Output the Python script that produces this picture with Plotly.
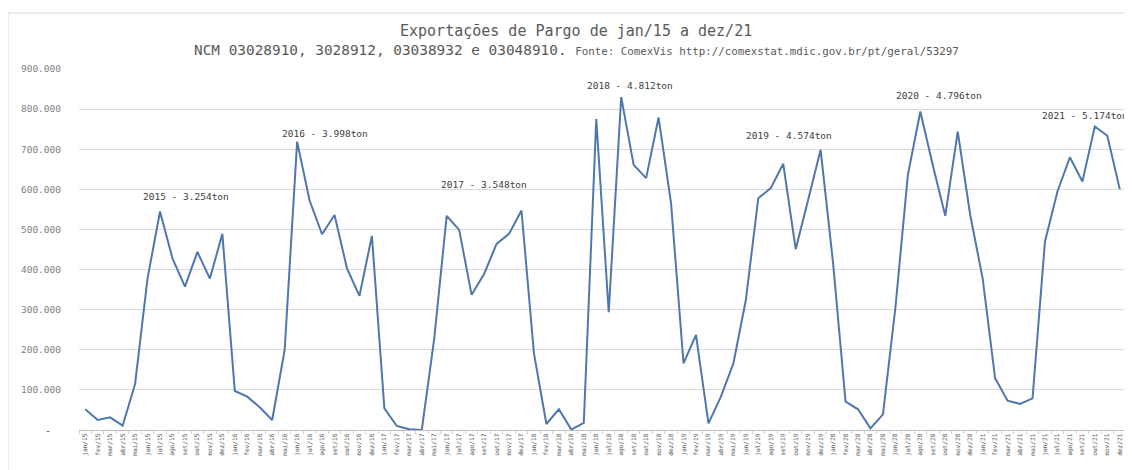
import plotly.graph_objects as go

# ---------------- data ----------------
month_names = ["jan", "fev", "mar", "abr", "mai", "jun", "jul", "ago", "set", "out", "nov", "dez"]
years = [15, 16, 17, 18, 19, 20, 21]

v2015 = [51600, 25000, 31600, 10800, 114700, 378000, 544700, 428000, 357600, 444000, 377500, 489000]
v2016 = [97300, 83000, 56600, 25000, 199600, 719000, 572000, 488000, 536000, 403000, 334500, 484000]
v2017 = [54000, 10000, 1700, 0, 228000, 534000, 499000, 337000, 389000, 464000, 489000, 547000]
v2018 = [191000, 15000, 51600, 1000, 18000, 775000, 293600, 830000, 661000, 628000, 779000, 565600]
v2019 = [166000, 237000, 16600, 83000, 166000, 324000, 578000, 603000, 663600, 450800, 574000, 698600]
v2020 = [416000, 70600, 51600, 4000, 39000, 305000, 636000, 794000, 660000, 534000, 744000, 536000]
v2021 = [378000, 129000, 73000, 65000, 79000, 470000, 594600, 680000, 619500, 757000, 733600, 600500]

year_labels = ["2015 - 3.254ton", "2016 - 3.998ton", "2017 - 3.548ton", "2018 - 4.812ton",
               "2019 - 4.574ton", "2020 - 4.796ton", "2021 - 5.174ton"]

y_tick_vals = [0, 100000, 200000, 300000, 400000, 500000, 600000, 700000, 800000, 900000]
y_tick_text = ["", "100.000", "200.000", "300.000", "400.000", "500.000",
               "600.000", "700.000", "800.000", "900.000"]

title_text = "Exportações de Pargo de jan/15 a dez/21"
subtitle_main = "NCM 03028910, 3028912, 03038932 e 03048910."
subtitle_src = "Fonte: ComexVis http://comexstat.mdic.gov.br/pt/geral/53297"

# ---------------- build ----------------
categories = [f"{m}/{y}" for y in years for m in month_names]
values = v2015 + v2016 + v2017 + v2018 + v2019 + v2020 + v2021

# label anchor placement (layout only): (category index, y position)
label_anchor = [(8.06, 581000), (19.2, 738000), (32.0, 611000), (43.7, 858000),
                (56.5, 735000), (68.5, 833000), (80.2, 783000)]

MONO = "DejaVu Sans Mono, Liberation Mono, monospace"
GRAY = "#595959"

fig = go.Figure()
fig.add_trace(go.Scatter(
    x=categories, y=values, mode="lines",
    line=dict(color="#4f77ad", width=2),
    showlegend=False, hoverinfo="x+y",
))

annotations = []
for txt, (ax, ay) in zip(year_labels, label_anchor):
    annotations.append(dict(
        x=ax, y=ay, xref="x", yref="y", text=txt, showarrow=False,
        xanchor="center", yanchor="middle",
        font=dict(family=MONO, size=9.5, color="#404040"),
    ))

# title and subtitle
annotations.append(dict(
    x=0.4747, y=1.105, xref="paper", yref="paper", text=title_text, showarrow=False,
    xanchor="center", yanchor="middle",
    font=dict(family=MONO, size=15, color=GRAY),
))
annotations.append(dict(
    x=0.4747, y=1.052, xref="paper", yref="paper",
    text=f"{subtitle_main} <span style='font-size:10.8px'>{subtitle_src}</span>",
    showarrow=False, xanchor="center", yanchor="middle",
    font=dict(family=MONO, size=14.4, color=GRAY),
))
# zero label shown as a dash (accounting format)
annotations.append(dict(
    x=-0.0296, y=0, xref="paper", yref="y", text="-", showarrow=False,
    xanchor="center", yanchor="middle",
    font=dict(family=MONO, size=10, color=GRAY),
))

shapes = [
    dict(type="line", xref="paper", yref="paper", x0=-0.0678, x1=1.006, y0=1.1551, y1=1.1551,
         line=dict(color="#d9d9d9", width=1)),
    dict(type="line", xref="paper", yref="paper", x0=-0.0678, x1=-0.0678, y0=-0.12, y1=1.1551,
         line=dict(color="#d9d9d9", width=1)),
]

# the page body has an 8px default margin, so the figure is sized/offset to compensate
fig.update_layout(
    width=1124, height=462,
    margin=dict(l=71, r=6, t=61, b=40, autoexpand=False),
    paper_bgcolor="white", plot_bgcolor="white",
    annotations=annotations, shapes=shapes,
    xaxis=dict(
        type="category", range=[-0.5, 83.5], tickangle=-90,
        tickfont=dict(family=MONO, size=6.2, color=GRAY),
        showgrid=False, showline=True, linecolor="#bfbfbf", linewidth=1,
        ticks="outside", tickson="boundaries", ticklen=3, tickcolor="#d0d0d0",
        automargin=False, zeroline=False,
    ),
    yaxis=dict(
        range=[0, 900000], tickvals=y_tick_vals, ticktext=y_tick_text,
        tickfont=dict(family=MONO, size=9.5, color="#7f7f7f"),
        showgrid=True, gridcolor="#d9d9d9", gridwidth=1,
        zeroline=False, showline=False, ticks="", ticklabelstandoff=17,
        automargin=False,
    ),
)

fig.write_html("out.html")
